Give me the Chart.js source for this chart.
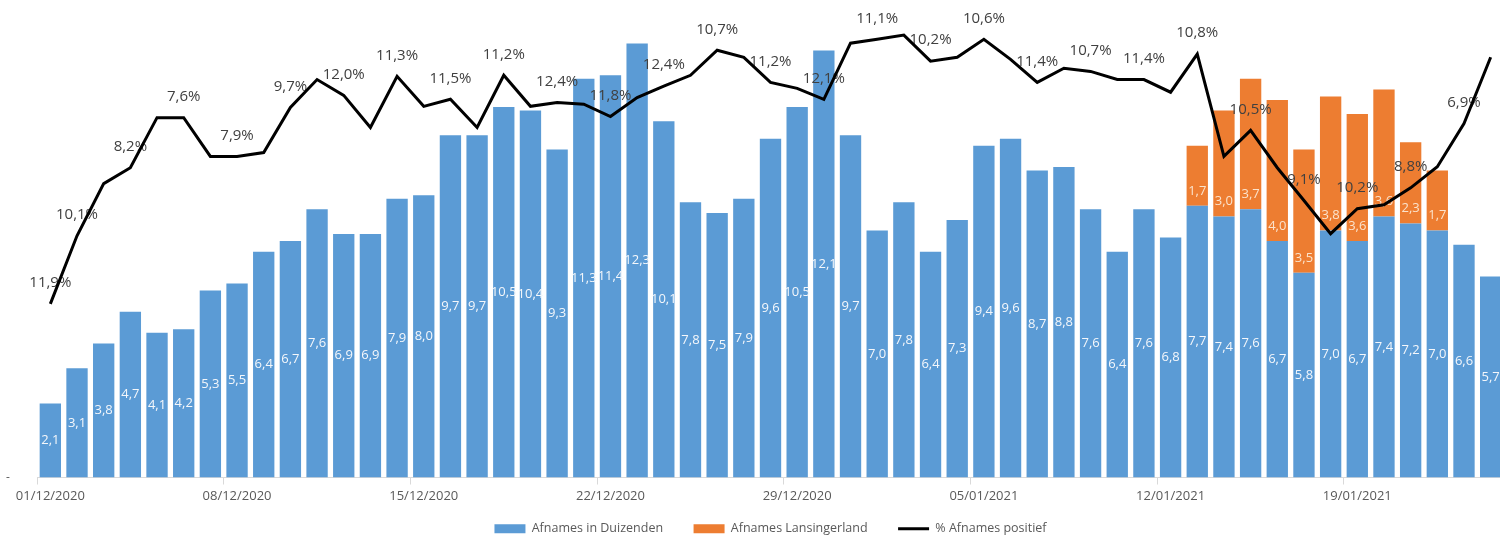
<!DOCTYPE html>
<html>
<head>
<meta charset="utf-8">
<script src="https://cdn.jsdelivr.net/npm/chart.js@4"></script>
<style>
html, body { margin: 0; padding: 0; overflow: hidden; background: #fff; }
#wrap { width: 1500px; height: 541px; overflow: hidden; position: relative; }
#wrap canvas { position: absolute; left: 0; top: 0; }
</style>
</head>
<body>
<div id="wrap"><canvas id="afnamesChart" width="1504" height="545"></canvas></div>
<script>
// dagen 01/12/2020 t/m 24/01/2021
const datums = [];
for (let d = new Date(2020, 11, 1); datums.length < 55; d.setDate(d.getDate() + 1)) {
    const dd = String(d.getDate()).padStart(2, '0');
    const mm = String(d.getMonth() + 1).padStart(2, '0');
    datums.push(dd + '/' + mm + '/' + d.getFullYear());
}

const afnamesDuizenden = [
    2.1, 3.1, 3.8, 4.7, 4.1, 4.2, 5.3, 5.5, 6.4, 6.7,
    7.6, 6.9, 6.9, 7.9, 8.0, 9.7, 9.7, 10.5, 10.4, 9.3,
    11.3, 11.4, 12.3, 10.1, 7.8, 7.5, 7.9, 9.6, 10.5, 12.1,
    9.7, 7.0, 7.8, 6.4, 7.3, 9.4, 9.6, 8.7, 8.8, 7.6,
    6.4, 7.6, 6.8, 7.7, 7.4, 7.6, 6.7, 5.8, 7.0, 6.7,
    7.4, 7.2, 7.0, 6.6, 5.7
];

const afnamesLansingerland = Array(43).fill(null).concat([
    1.7, 3.0, 3.7, 4.0, 3.5, 3.8, 3.6, 3.6, 2.3, 1.7, null, null
]);

// hoogte van de lijn (tweede as, niet getoond)
const pctLijn = [
    4.92, 6.85, 8.33, 8.78, 10.20, 10.20, 9.10, 9.10, 9.21, 10.49,
    11.28, 10.83, 9.92, 11.37, 10.52, 10.72, 9.92, 11.40, 10.52, 10.63,
    10.58, 10.23, 10.77, 11.09, 11.40, 12.11, 11.91, 11.20, 11.03, 10.72,
    12.31, 12.42, 12.54, 11.80, 11.91, 12.42, 11.85, 11.20, 11.60, 11.51,
    11.28, 11.28, 10.92, 12.00, 9.10, 9.84, 8.78, 7.85, 6.91, 7.62,
    7.73, 8.21, 8.81, 10.03, 11.91
];

const pctLabels = [
    '11,9%', '10,1%', null, '8,2%', null, '7,6%', null, '7,9%', null, '9,7%',
    null, '12,0%', null, '11,3%', null, '11,5%', null, '11,2%', null, '12,4%',
    null, '11,8%', null, '12,4%', null, '10,7%', null, '11,2%', null, '12,1%',
    null, '11,1%', null, '10,2%', null, '10,6%', null, '11,4%', null, '10,7%',
    null, '11,4%', null, '10,8%', null, '10,5%', null, '9,1%', null, '10,2%',
    null, '8,8%', null, '6,9%', null
];

const yMax = 13.33;
const fmt = v => v.toFixed(1).replace('.', ',');

const labelPlugin = {
    id: 'waardeLabels',
    beforeDatasetDraw(chart, args) {
        if (args.index !== 2) return;
        const ctx = chart.ctx;
        ctx.save();
        ctx.textAlign = 'center';
        ctx.textBaseline = 'middle';
        ctx.font = '13px "Open Sans"';

        ctx.fillStyle = '#f4f7fb';
        chart.getDatasetMeta(0).data.forEach((bar, i) => {
            const v = afnamesDuizenden[i];
            if (v == null) return;
            ctx.fillText(fmt(v), bar.x, (bar.y + bar.base) / 2);
        });

        ctx.fillStyle = '#fbe3cc';
        chart.getDatasetMeta(1).data.forEach((bar, i) => {
            const v = afnamesLansingerland[i];
            if (v == null) return;
            ctx.fillText(fmt(v), bar.x, bar.base - 15);
        });

        ctx.font = '15px "Open Sans"';
        ctx.fillStyle = '#404040';
        chart.getDatasetMeta(2).data.forEach((pt, i) => {
            if (!pctLabels[i]) return;
            ctx.fillText(pctLabels[i], pt.x, pt.y - 21);
        });
        ctx.restore();
    }
};

new Chart(document.getElementById('afnamesChart'), {
    type: 'bar',
    data: {
        labels: datums,
        datasets: [
            {
                label: 'Afnames in Duizenden',
                data: afnamesDuizenden,
                backgroundColor: '#5b9bd5',
                barPercentage: 0.8,
                categoryPercentage: 1,
                order: 1
            },
            {
                label: 'Afnames Lansingerland',
                data: afnamesLansingerland,
                backgroundColor: '#ed7d31',
                barPercentage: 0.8,
                categoryPercentage: 1,
                order: 1
            },
            {
                type: 'line',
                label: '% Afnames positief',
                data: pctLijn,
                yAxisID: 'y2',
                borderColor: '#000000',
                backgroundColor: '#000000',
                borderWidth: 3,
                pointRadius: 0,
                tension: 0,
                order: 0
            }
        ]
    },
    options: {
        responsive: false,
        animation: false,
        layout: { padding: { top: 0, right: 0, left: 6, bottom: 0 } },
        scales: {
            x: {
                stacked: true,
                offset: true,
                grid: {
                    display: true,
                    drawOnChartArea: false,
                    drawTicks: true,
                    tickLength: 7,
                    color: c => (c.index % 7 === 0 ? '#d9d9d9' : 'rgba(0,0,0,0)')
                },
                border: { color: '#d9d9d9' },
                ticks: {
                    autoSkip: false,
                    maxRotation: 0,
                    padding: 4,
                    color: '#595959',
                    font: { family: 'Open Sans', size: 13 },
                    callback: function (val, i) { return i % 7 === 0 ? this.getLabelForValue(val) : ''; }
                },
                afterFit: s => { s.height = 27; }
            },
            y: {
                stacked: true,
                min: 0,
                max: yMax,
                grid: { display: false, drawTicks: false },
                border: { display: false },
                ticks: {
                    stepSize: yMax,
                    padding: 0,
                    crossAlign: 'far',
                    color: '#595959',
                    font: { family: 'Open Sans', size: 12 },
                    callback: v => (v === 0 ? '-' : '')
                },
                afterFit: s => { s.width = 31; }
            },
            y2: {
                display: false,
                min: 0,
                max: yMax
            }
        },
        plugins: {
            legend: {
                position: 'bottom',
                fullSize: false,
                labels: {
                    usePointStyle: true,
                    pointStyleWidth: 31,
                    boxHeight: 9,
                    padding: 18,
                    color: '#595959',
                    font: { family: 'Open Sans', size: 12.5 },
                    sort: (a, b) => a.datasetIndex - b.datasetIndex,
                    generateLabels: chart => {
                        const items = Chart.defaults.plugins.legend.labels.generateLabels(chart);
                        items.forEach(it => {
                            if (it.datasetIndex === 2) {
                                it.pointStyle = 'line';
                                it.strokeStyle = '#000000';
                                it.lineWidth = 3;
                            } else {
                                it.pointStyle = 'rect';
                                it.lineWidth = 0;
                                it.text = it.text + '\u2002\u2002';
                            }
                        });
                        return items;
                    }
                }
            },
            tooltip: { enabled: false }
        }
    },
    plugins: [labelPlugin]
});
</script>
</body>
</html>
